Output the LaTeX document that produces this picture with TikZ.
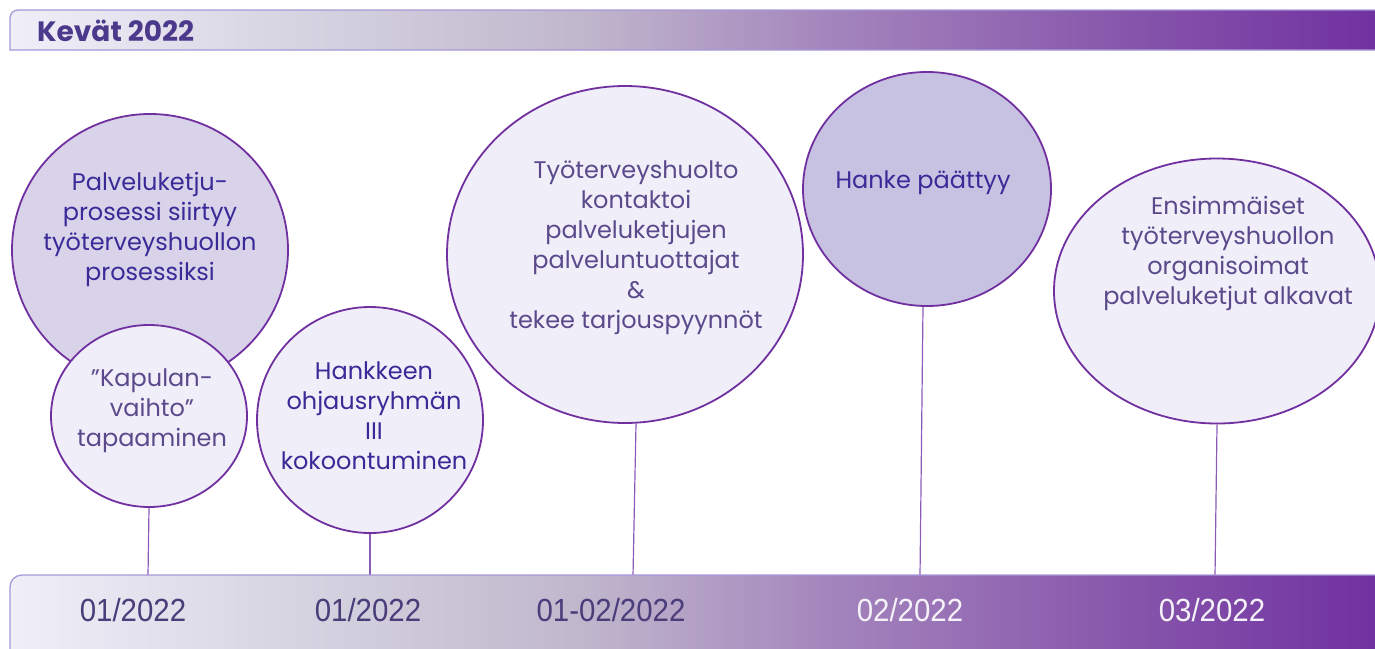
\documentclass[tikz,border=0pt]{standalone}
\usepackage{fontspec}
\setmainfont{Poppins}
\newfontfamily\datefont[FakeStretch=0.92]{Liberation Sans}
\usetikzlibrary{shapes.geometric}
\definecolor{ring}{HTML}{7030A0}
\definecolor{stemc}{HTML}{8A5CB8}
\definecolor{fillA}{HTML}{D9D3EA}
\definecolor{fillB}{HTML}{F0EEF8}
\definecolor{fillC}{HTML}{C8C2E2}
\definecolor{txtA}{HTML}{3A2A98}
\definecolor{txtB}{HTML}{5A4A8C}
\definecolor{titlec}{HTML}{4B3A8C}
\definecolor{g0}{HTML}{F0EEF8}
\definecolor{g1}{HTML}{D2D0DE}
\definecolor{g2}{HTML}{C0B6CC}
\definecolor{g3}{HTML}{A384BC}
\definecolor{g4}{HTML}{8858AC}
\definecolor{g5}{HTML}{7030A0}
\definecolor{barline}{HTML}{A898D8}
\definecolor{dateA}{HTML}{4A3D7A}
\definecolor{dateB}{HTML}{F4F2F8}
\pgfdeclarehorizontalshading{barshade}{100bp}{color(0bp)=(g0); color(25bp)=(g0); color(37bp)=(g1); color(46bp)=(g2); color(55bp)=(g3); color(65bp)=(g4); color(75bp)=(g5); color(100bp)=(g5)}
\tikzset{
  bubble/.style={ellipse, draw=ring, line width=1.8pt, inner sep=0pt},
  bubtext/.style={align=center, font=\fontsize{24}{30}\selectfont, inner sep=0pt},
  stemline/.style={draw=stemc, line width=1.2pt},
  barbox/.style={draw=barline, line width=1.3pt, shading=barshade},
  datelabel/.style={font=\datefont\fontsize{32}{36}\selectfont, inner sep=0pt}
}
\begin{document}
\begin{tikzpicture}[x=1pt,y=-1pt]
\useasboundingbox (0,0) rectangle (1375,648);
\begin{scope}
\clip (0,0) rectangle (1375,648);
% top bar
\path[barbox] (1385,50) -- (10,50) [rounded corners=8pt] -- (10,10) [sharp corners] -- (1385,10) -- cycle;
\node[anchor=west, font=\bfseries\fontsize{28}{30}\selectfont, text=titlec, inner sep=0pt] (title) at (37,31) {Kevät 2022};
% bubbles
\node[bubble, fill=fillA, minimum width=276, minimum height=272] (c1) at (150,250) {};
\node[bubble, fill=fillB, minimum width=196, minimum height=182] (c2) at (149,416) {};
\node[bubble, fill=fillB, minimum width=226, minimum height=226] (c3) at (370,420) {};
\node[bubble, fill=fillB, minimum width=356, minimum height=337] (c4) at (625,254.5) {};
\node[bubble, fill=fillC, minimum width=248, minimum height=234] (c5) at (927,189) {};
\node[bubble, fill=fillB, minimum width=326, minimum height=265] (c6) at (1217,291) {};
% texts
\node[bubtext, text=txtA] (t1) at (150,229) {Palveluketju-\\prosessi siirtyy\\työterveyshuollon\\prosessiksi};
\node[bubtext, text=txtB] (t2) at (152,411) {"Kapulan-\\vaihto"\\tapaaminen};
\node[bubtext, text=txtA] (t3) at (374,416) {Hankkeen\\ohjausryhmän\\III\\kokoontuminen};
\node[bubtext, text=txtB] (t4) at (636,248) {Työterveyshuolto\\kontaktoi\\palveluketjujen\\palveluntuottajat\\\&\\tekee tarjouspyynnöt};
\node[bubtext, text=txtA] (t5) at (923,183) {Hanke päättyy};
\node[bubtext, text=txtB] (t6) at (1228,253) {Ensimmäiset\\työterveyshuollon\\organisoimat\\palveluketjut alkavat};
% stems
\coordinate (s2) at (148,576);
\coordinate (s3) at (370,576);
\coordinate (s4) at (633,576);
\coordinate (s5) at (920,576);
\coordinate (s6) at (1215,576);
\draw[stemline] (c2.south) -- (s2);
\draw[stemline] (c3.south) -- (s3);
\draw[stemline] ([xshift=11pt]c4.south) -- (s4);
\draw[stemline] ([xshift=-4pt]c5.south) -- (s5);
\draw[stemline] (c6.south) -- (s6);
% bottom bar
\path[barbox] (1385,660) -- (10,660) [rounded corners=12pt] -- (10,575) [sharp corners] -- (1385,575) -- cycle;
\node[datelabel, text=dateA] (d1) at (133,610) {01/2022};
\node[datelabel, text=dateA] (d2) at (368,610) {01/2022};
\node[datelabel, text=dateA] (d3) at (611,610) {01-02/2022};
\node[datelabel, text=dateB] (d4) at (910,610) {02/2022};
\node[datelabel, text=dateB] (d5) at (1212,610) {03/2022};
\end{scope}
\end{tikzpicture}
\end{document}
